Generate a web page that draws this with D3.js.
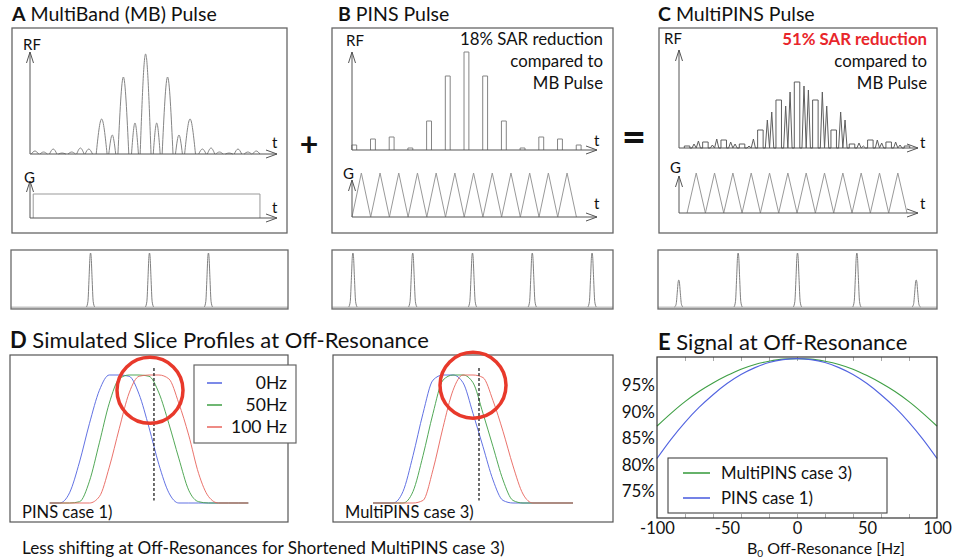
<!DOCTYPE html>
<html>
<head>
<meta charset="utf-8">
<script src="https://cdn.jsdelivr.net/npm/d3@7"></script>
<style>
  body { margin: 0; background: #fff; }
  text { font-family: Lato, "Open Sans", sans-serif; fill: #111; }
</style>
</head>
<body>
<svg id="fig" width="963" height="560"></svg>
<script>

/*****************************/
// Data
/*****************************/

// A: MB pulse RF lobes (t in arbitrary units 0..100, amplitude 0..100)
var mbLobeT   = [2.0, 5.5, 9.4, 13.0, 16.9, 20.4, 23.8, 29.0, 33.3, 37.8, 42.5, 46.8, 51.3, 55.7, 60.3, 64.8, 69.8, 73.3, 76.7, 80.6, 84.2, 88.2, 91.6];
var mbLobeW   = [3, 3, 3, 3, 3, 3, 3, 4.4, 2.8, 4.4, 2.8, 4.4, 2.8, 4.4, 2.8, 4.4, 3, 3, 3, 3, 3, 3, 3];
var mbLobeAmp = [3, 2, 5, 1, 2, 6, 5, 35, 19, 77, 31, 100, 31, 77, 19, 35, 5, 6, 2, 1, 5, 2, 3];
var mbGradT   = [1.3, 1.3, 93.1, 93.1];
var mbGradAmp = [0, 1, 1, 0];

// B: PINS pulse, t in gradient periods
var pinsBlipT   = [0.12, 1.12, 2.12, 3.12, 4.12, 5.12, 6.12, 7.12, 8.12, 9.12, 10.12, 11.12, 12.12];
var pinsBlipAmp = [5, 11, 13, 2, 29, 74, 98, 74, 29, 2, 13, 11, 5];
var pinsGradT   = [0, 0.5, 1, 1.5, 2, 2.5, 3, 3.5, 4, 4.5, 5, 5.5, 6, 6.5, 7, 7.5, 8, 8.5, 9, 9.5, 10, 10.5, 11, 11.5, 12];
var pinsGradAmp = [0, 1, 0, 1, 0, 1, 0, 1, 0, 1, 0, 1, 0, 1, 0, 1, 0, 1, 0, 1, 0, 1, 0, 1, 0];

// C: MultiPINS pulse, blips at gradient zeros plus spikes inside each period
var mpVertexT  = [0, 1, 2, 3, 4, 5, 6, 7, 8, 9, 10, 11, 12];
var mpBlipAmp  = [2, 6, 8, 4, 18, 48, 66, 48, 18, 4, 8, 6, 2];
var mpSpikeAmp = [[4, 7], [3, 9], [6, 4], [2, 9], [28, 36], [42, 56], [62, 58], [56, 42], [36, 28], [5, 2], [8, 5], [6, 3]];
var mpGradT    = [0, 0.5, 1, 1.5, 2, 2.5, 3, 3.5, 4, 4.5, 5, 5.5, 6, 6.5, 7, 7.5, 8, 8.5, 9, 9.5, 10, 10.5, 11, 11.5, 12];
var mpGradAmp  = [0, 1, 0, 1, 0, 1, 0, 1, 0, 1, 0, 1, 0, 1, 0, 1, 0, 1, 0, 1, 0, 1, 0, 1, 0];

// Excited slices (slice-position units)
var sliceCenters = [-2, -1, 0, 1, 2];
var sliceAmpMB   = [0, 1, 1, 1, 0];
var sliceAmpPINS = [1, 1, 1, 1, 1];
var sliceAmpMP   = [0.5, 1, 1, 1, 0.5];
var peakOffset   = [-0.07, -0.045, -0.025, -0.01, 0, 0.01, 0.025, 0.045, 0.07];
var peakShape    = [0, 0.1, 0.55, 0.93, 1, 0.93, 0.55, 0.1, 0];

// D: simulated slice profiles (position in mm)
var profilePos = [-10, -9, -8, -7, -6, -5, -4, -3, -2, -1, 0, 1, 2, 3, 4, 5, 6, 7, 8, 9, 10];
var pins0Hz    = [0, 0, 0.08, 0.32, 0.62, 0.88, 1, 1, 0.99, 0.85, 0.59, 0.3, 0.08, 0, 0, 0, 0, 0, 0, 0, 0];
var pins50Hz   = [0, 0, 0, 0.01, 0.17, 0.47, 0.78, 0.97, 1, 1, 0.99, 0.86, 0.62, 0.35, 0.1, 0.01, 0, 0, 0, 0, 0];
var pins100Hz  = [0, 0, 0, 0, 0, 0.05, 0.28, 0.58, 0.86, 0.99, 1, 1, 0.97, 0.78, 0.53, 0.23, 0.05, 0, 0, 0, 0];
var mp0Hz      = [0, 0, 0, 0.09, 0.37, 0.7, 0.96, 1, 1, 0.94, 0.7, 0.44, 0.18, 0.02, 0, 0, 0, 0, 0, 0, 0];
var mp50Hz     = [0, 0, 0, 0, 0.09, 0.37, 0.7, 0.96, 1, 1, 0.94, 0.7, 0.44, 0.18, 0.02, 0, 0, 0, 0, 0, 0];
var mp100Hz    = [0, 0, 0, 0, 0, 0.02, 0.26, 0.59, 0.88, 1, 1, 0.98, 0.8, 0.56, 0.29, 0.07, 0, 0, 0, 0, 0];
var profileLabels = ['0Hz', '50Hz', '100 Hz'];

// E: signal at off-resonance
var offResHz   = [-100, -90, -80, -70, -60, -50, -40, -30, -20, -10, 0, 10, 20, 30, 40, 50, 60, 70, 80, 90, 100];
var signalMP   = [87.3, 89.7, 91.9, 93.8, 95.4, 96.8, 98.0, 98.9, 99.5, 99.9, 100, 99.9, 99.5, 98.9, 98.0, 96.8, 95.4, 93.8, 91.9, 89.7, 87.3];
var signalPINS = [81.2, 84.8, 88.0, 90.8, 93.2, 95.3, 97.0, 98.3, 99.25, 99.8, 100, 99.8, 99.25, 98.3, 97.0, 95.3, 93.2, 90.8, 88.0, 84.8, 81.2];
var signalTicks = [75, 80, 85, 90, 95];
var offResTicks = [-100, -50, 0, 50, 100];
var signalLabels = ['MultiPINS case 3)', 'PINS case 1)'];

/*****************************/
// Setup
/*****************************/

var svg = d3.select('#fig');
svg.append('rect').attr('width', 963).attr('height', 560).attr('fill', '#fff');

var cBlue = '#5163e0', cGreen = '#3f9f45', cRed = '#e8645c';
var waveColor = '#858585', axisColor = '#555';

function arrowAxis(g, x0, y0, x1, y1) {
    g.append('line')
        .attr('x1', x0).attr('y1', y0).attr('x2', x1).attr('y2', y1)
        .attr('stroke', axisColor).attr('stroke-width', 1);
    var head = (x0 === x1)
        ? [[x1 - 3.5, y1 + 11], [x1, y1], [x1 + 3.5, y1 + 11]]
        : [[x1 - 11, y1 - 4], [x1, y1], [x1 - 11, y1 + 4]];
    g.append('path').attr('d', d3.line()(head))
        .attr('fill', 'none').attr('stroke', axisColor).attr('stroke-width', 1);
}

function title(x, y, letter, rest, size) {
    var t = svg.append('text').attr('x', x).attr('y', y).attr('font-size', size);
    t.append('tspan').attr('font-weight', 'bold').text(letter);
    t.append('tspan').text(' ' + rest);
}

/*****************************/
// Pulse panels A, B, C
/*****************************/

var pulseLayout = [
    {letter: 'A', name: 'MultiBand (MB) Pulse', titleX: 12, box: [12, 28, 287, 233], axisX: 30, tipX: 277,
     rfY: 154, rfTop: 52, rfFull: 100, gY: 218, gTop: 181, gFull: 44, dom: [0, 100],
     rfLab: [23, 50], gLab: [24, 183], tX: 272, tY: [148, 213]},
    {letter: 'B', name: 'PINS Pulse', titleX: 338, box: [332, 28, 613, 233], axisX: 352, tipX: 597,
     rfY: 150, rfTop: 52, rfFull: 100, gY: 217, gTop: 180, gFull: 44, dom: [0, 13.1],
     rfLab: [346, 46], gLab: [343, 179], tX: 594, tY: [146, 209]},
    {letter: 'C', name: 'MultiPINS Pulse', titleX: 658, box: [659, 28, 937, 233], axisX: 679, tipX: 918,
     rfY: 148, rfTop: 50, rfFull: 100, gY: 213, gTop: 176, gFull: 40, dom: [-0.44, 12.6],
     rfLab: [664, 44], gLab: [670, 173], tX: 920, tY: [148, 209]}
];

pulseLayout.forEach(function(p, i) {
    title(p.titleX, 21, p.letter, p.name, 19.5);

    var g = svg.append('g');
    g.append('rect')
        .attr('x', p.box[0]).attr('y', p.box[1])
        .attr('width', p.box[2] - p.box[0]).attr('height', p.box[3] - p.box[1])
        .attr('fill', 'none').attr('stroke', '#666').attr('stroke-width', 1.3);

    var x = d3.scaleLinear().domain(p.dom).range([p.axisX, p.tipX]);
    var yRF = d3.scaleLinear().domain([0, 100]).range([p.rfY, p.rfY - p.rfFull]);
    var yG = d3.scaleLinear().domain([0, 1]).range([p.gY, p.gY - p.gFull]);

    var line = d3.line().x(function(d) { return x(d[0]); }).y(function(d) { return yRF(d[1]); });
    var gLine = d3.line().x(function(d) { return x(d[0]); }).y(function(d) { return yG(d[1]); });

    var wave = g.append('g').attr('fill', 'none').attr('stroke', waveColor).attr('stroke-width', 1);

    if (i === 0) {
        var lobe = d3.line().x(function(d) { return x(d[0]); }).y(function(d) { return yRF(d[1]); })
            .curve(d3.curveNatural);
        mbLobeT.forEach(function(c, k) {
            var w = mbLobeW[k] / 2;
            wave.append('path').attr('d', lobe([[c - w, 0], [c, mbLobeAmp[k]], [c + w, 0]]));
        });
        var yGA = d3.scaleLinear().domain([0, 1]).range([p.gY, p.gY - 24]);
        wave.append('path').attr('stroke', '#999')
            .attr('d', d3.line().x(function(d) { return x(d[0]); }).y(function(d) { return yGA(d[1]); })(
                mbGradT.map(function(t, k) { return [t, mbGradAmp[k]]; })));
    } else if (i === 1) {
        pinsBlipT.forEach(function(t, k) {
            var h = pinsBlipAmp[k];
            wave.append('path').attr('d', line([[t - 0.13, 0], [t - 0.13, h], [t + 0.13, h], [t + 0.13, 0]]));
        });
        wave.append('path').attr('stroke', '#999')
            .attr('d', gLine(pinsGradT.map(function(t, k) { return [t, pinsGradAmp[k]]; })));
    } else {
        var pts = [];
        mpVertexT.forEach(function(t, k) {
            var b = mpBlipAmp[k];
            pts.push([t - 0.15, 0], [t - 0.15, b], [t + 0.15, b], [t + 0.15, 0]);
            if (k < mpSpikeAmp.length) {
                var s = mpSpikeAmp[k];
                pts.push([t + 0.27, 0], [t + 0.38, s[0]], [t + 0.5, 0], [t + 0.62, s[1]], [t + 0.73, 0], [t + 0.85, 0]);
            }
        });
        wave.append('path').attr('stroke', '#5e5e5e').attr('d', line(pts));
        wave.append('path').attr('stroke', '#999')
            .attr('d', gLine(mpGradT.map(function(t, k) { return [t, mpGradAmp[k]]; })));
    }

    arrowAxis(g, p.axisX, p.rfY, p.axisX, p.rfTop);
    arrowAxis(g, p.axisX, p.rfY, p.tipX, p.rfY);
    arrowAxis(g, p.axisX, p.gY, p.axisX, p.gTop);
    arrowAxis(g, p.axisX, p.gY, p.tipX, p.gY);

    g.append('text').attr('x', p.rfLab[0]).attr('y', p.rfLab[1]).attr('font-size', 15).text('RF');
    g.append('text').attr('x', p.gLab[0]).attr('y', p.gLab[1]).attr('font-size', 15).text('G');
    p.tY.forEach(function(ty) {
        g.append('text').attr('x', p.tX).attr('y', ty).attr('font-size', 15).text('t');
    });
});

// SAR annotations
var sarB = ['18% SAR reduction', 'compared to', 'MB Pulse'];
var sarC = ['51% SAR reduction', 'compared to', 'MB Pulse'];
sarB.forEach(function(s, k) {
    svg.append('text').attr('x', 603).attr('y', 45 + k * 22).attr('text-anchor', 'end')
        .attr('font-size', 16.8).text(s);
});
sarC.forEach(function(s, k) {
    var t = svg.append('text').attr('x', 927).attr('y', 45 + k * 22).attr('text-anchor', 'end')
        .attr('font-size', 16.8).text(s);
    if (k === 0) t.attr('font-weight', 'bold').style('fill', '#e8262b');
});

// + and =
svg.append('text').attr('x', 309).attr('y', 156).attr('text-anchor', 'middle')
    .attr('font-size', 32).attr('font-weight', 'bold').text('+');
svg.append('text').attr('x', 634).attr('y', 152).attr('text-anchor', 'middle')
    .attr('font-size', 42).attr('font-weight', 'bold').text('=');

/*****************************/
// Slice profile row
/*****************************/

var sliceBoxes = [[11, 288, sliceAmpMB], [332, 613, sliceAmpPINS], [658, 937, sliceAmpMP]];
sliceBoxes.forEach(function(b) {
    var g = svg.append('g');
    var x = d3.scaleLinear().domain([-2.35, 2.35]).range([b[0], b[1]]);
    var y = d3.scaleLinear().domain([0, 1]).range([307, 253]);
    g.append('line').attr('x1', b[0]).attr('x2', b[1]).attr('y1', 307.5).attr('y2', 307.5)
        .attr('stroke', '#c4c4c4').attr('stroke-width', 2);
    g.append('rect').attr('x', b[0]).attr('y', 250).attr('width', b[1] - b[0]).attr('height', 59)
        .attr('fill', 'none').attr('stroke', '#6a6a6a').attr('stroke-width', 1.3);
    var line = d3.line().x(function(d) { return x(d[0]); }).y(function(d) { return y(d[1]); })
        .curve(d3.curveMonotoneX);
    sliceCenters.forEach(function(c, k) {
        var a = b[2][k];
        if (a === 0) return;
        g.append('path')
            .attr('d', line(peakOffset.map(function(o, j) { return [c + o, a * peakShape[j]]; })))
            .attr('fill', 'none').attr('stroke', '#808080').attr('stroke-width', 1);
    });
});

/*****************************/
// D: slice profiles at off-resonance
/*****************************/

title(10, 348, 'D', 'Simulated Slice Profiles at Off-Resonance', 22);

var profilePanels = [
    {box: [10, 288], curves: [pins0Hz, pins50Hz, pins100Hz], dash: 0.5, circle: [0.1, 0.88], label: 'PINS case 1)'},
    {box: [333, 613], curves: [mp0Hz, mp50Hz, mp100Hz], dash: 0.6, circle: [0.0, 0.92], label: 'MultiPINS case 3)'}
];
var profileColors = [cBlue, cGreen, cRed];

profilePanels.forEach(function(p, i) {
    var g = svg.append('g');
    var x = d3.scaleLinear().domain([-14, 14]).range(p.box);
    var y = d3.scaleLinear().domain([0, 1]).range([503, 375]);
    g.append('rect').attr('x', p.box[0]).attr('y', 355).attr('width', p.box[1] - p.box[0]).attr('height', 167)
        .attr('fill', 'none').attr('stroke', '#555').attr('stroke-width', 1.2);

    var line = d3.line().x(function(d, k) { return x(profilePos[k]); }).y(function(d) { return y(d); })
        .curve(d3.curveMonotoneX);
    p.curves.forEach(function(c, k) {
        g.append('path').attr('d', line(c)).attr('fill', 'none')
            .attr('stroke', profileColors[k]).attr('stroke-width', 1).attr('stroke-opacity', 0.9);
    });

    g.append('line').attr('x1', x(p.dash)).attr('x2', x(p.dash)).attr('y1', y(1.055)).attr('y2', y(0.02))
        .attr('stroke', '#222').attr('stroke-width', 1.3).attr('stroke-dasharray', '3,2');

    g.append('circle').attr('cx', x(p.circle[0])).attr('cy', y(p.circle[1])).attr('r', 33)
        .attr('fill', 'none').attr('stroke', '#e8392b').attr('stroke-width', 3.5);

    g.append('text').attr('x', p.box[0] + 12).attr('y', 518).attr('font-size', 16.5).text(p.label);

    if (i === 0) {
        var lg = g.append('g');
        lg.append('rect').attr('x', 194).attr('y', 365).attr('width', 102).attr('height', 78)
            .attr('fill', '#fff').attr('stroke', '#666').attr('stroke-width', 1.2);
        profileLabels.forEach(function(l, k) {
            var ly = 383 + k * 22;
            lg.append('line').attr('x1', 207).attr('x2', 222).attr('y1', ly).attr('y2', ly)
                .attr('stroke', profileColors[k]).attr('stroke-width', 1.5);
            lg.append('text').attr('x', 287).attr('y', ly + 6).attr('text-anchor', 'end')
                .attr('font-size', 17.5).text(l);
        });
    }
});

svg.append('text').attr('x', 22).attr('y', 554).attr('font-size', 17.2)
    .text('Less shifting at Off-Resonances for Shortened MultiPINS case 3)');

/*****************************/
// E: signal at off-resonance
/*****************************/

title(658, 350, 'E', 'Signal at Off-Resonance', 22);

var ex = d3.scaleLinear().domain([-100, 100]).range([657, 937]);
var ey = d3.scaleLinear().domain([70, 100.3]).range([518, 357]);
var eg = svg.append('g');

// minor inner ticks
var minor = [-80, -60, -40, -20, 0, 20, 40, 60, 80];
eg.append('g').attr('transform', 'translate(0,518)')
    .call(d3.axisBottom(ex).tickValues(minor).tickSize(-4).tickFormat(''))
    .call(function(a) { a.select('.domain').remove(); a.selectAll('line').attr('stroke', '#aaa'); });
eg.append('g').attr('transform', 'translate(0,357)')
    .call(d3.axisTop(ex).tickValues(minor).tickSize(-4).tickFormat(''))
    .call(function(a) { a.select('.domain').remove(); a.selectAll('line').attr('stroke', '#aaa'); });

var yAx = eg.append('g').attr('transform', 'translate(657,0)')
    .call(d3.axisLeft(ey).tickValues(signalTicks).tickSize(0).tickPadding(2)
        .tickFormat(function(d) { return d + '%'; }));
yAx.select('.domain').remove();
yAx.selectAll('text').attr('font-size', 17).attr('font-family', 'Lato, sans-serif').style('fill', '#111');

var xAx = eg.append('g').attr('transform', 'translate(0,518)')
    .call(d3.axisBottom(ex).tickValues(offResTicks).tickSize(0).tickPadding(4)
        .tickFormat(function(d) { return String(d); }));
xAx.select('.domain').remove();
xAx.selectAll('text').attr('font-size', 16.5).attr('font-family', 'Lato, sans-serif').style('fill', '#111');

var eLine = d3.line().x(function(d, k) { return ex(offResHz[k]); }).y(function(d) { return ey(d); })
    .curve(d3.curveMonotoneX);
eg.append('path').attr('d', eLine(signalMP)).attr('fill', 'none').attr('stroke', cGreen).attr('stroke-width', 1.1);
eg.append('path').attr('d', eLine(signalPINS)).attr('fill', 'none').attr('stroke', cBlue).attr('stroke-width', 1.1);

eg.append('rect').attr('x', 657).attr('y', 357).attr('width', 280).attr('height', 161)
    .attr('fill', 'none').attr('stroke', '#333').attr('stroke-width', 1.2);

var elg = eg.append('g');
elg.append('rect').attr('x', 668).attr('y', 458).attr('width', 219).attr('height', 55)
    .attr('fill', '#fff').attr('stroke', '#444').attr('stroke-width', 1.1);
[cGreen, cBlue].forEach(function(c, k) {
    var ly = 473 + k * 25;
    elg.append('line').attr('x1', 683).attr('x2', 710).attr('y1', ly).attr('y2', ly)
        .attr('stroke', c).attr('stroke-width', 1.6);
    elg.append('text').attr('x', 721).attr('y', ly + 6).attr('font-size', 16.8).text(signalLabels[k]);
});

var xl = eg.append('text').attr('x', 747).attr('y', 554).attr('font-size', 16);
xl.append('tspan').text('B');
xl.append('tspan').attr('font-size', 10).attr('dy', 2.5).text('0');
xl.append('tspan').attr('dy', -2.5).text(' Off-Resonance [Hz]');

</script>
</body>
</html>
